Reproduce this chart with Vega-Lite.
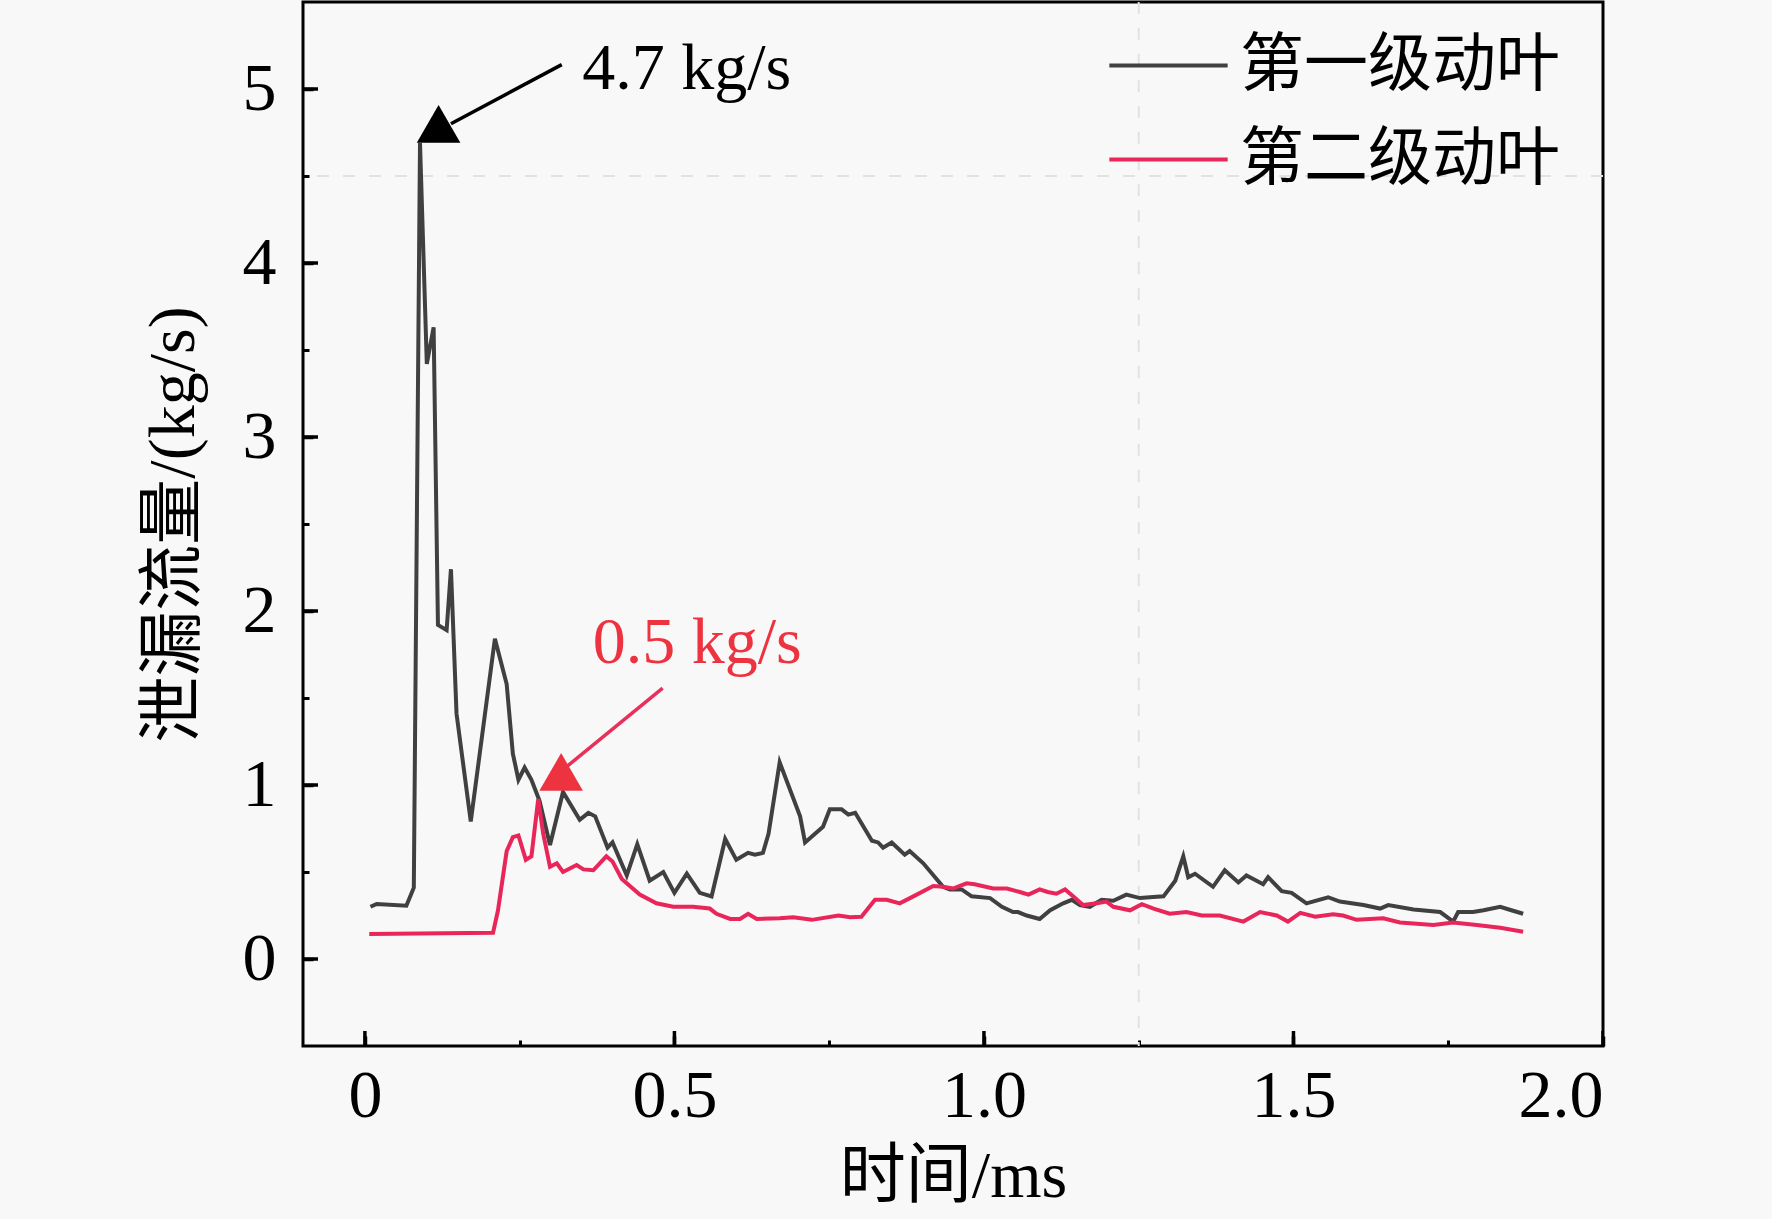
{
  "$schema": "https://vega.github.io/schema/vega-lite/v6.json",
  "width": 1300,
  "height": 1044,
  "autosize": "none",
  "padding": {"left": 303, "top": 2, "right": 169, "bottom": 173},
  "background": "#f8f8f8",
  "config": {
    "view": {"stroke": "black", "strokeWidth": 3},
    "axis": {
      "domain": false, "grid": false, "tickColor": "black", "tickWidth": 3,
      "labelFont": "Liberation Serif", "labelFontSize": 68, "labelColor": "black",
      "titleFont": "Liberation Serif, Noto Sans CJK SC", "titleFontSize": 66,
      "titleFontWeight": "normal", "titleColor": "black"
    },
    "legend": {
      "orient": "none", "legendX": 804, "legendY": 2, "padding": 0,
      "symbolType": "stroke", "symbolSize": 14000, "symbolStrokeWidth": 4,
      "labelFont": "Noto Sans CJK SC", "labelFontSize": 64, "labelColor": "black",
      "labelLimit": 0, "labelOffset": 10, "rowPadding": -33
    }
  },
  "datasets": {
    "flow": [
      {"t": 0.009, "q": 0.30, "s": "第一级动叶"}, {"t": 0.019, "q": 0.316, "s": "第一级动叶"},
      {"t": 0.067, "q": 0.306, "s": "第一级动叶"}, {"t": 0.079, "q": 0.41, "s": "第一级动叶"},
      {"t": 0.089, "q": 4.69, "s": "第一级动叶"}, {"t": 0.100, "q": 3.42, "s": "第一级动叶"},
      {"t": 0.111, "q": 3.63, "s": "第一级动叶"}, {"t": 0.118, "q": 1.92, "s": "第一级动叶"},
      {"t": 0.132, "q": 1.89, "s": "第一级动叶"}, {"t": 0.139, "q": 2.24, "s": "第一级动叶"},
      {"t": 0.148, "q": 1.41, "s": "第一级动叶"}, {"t": 0.171, "q": 0.79, "s": "第一级动叶"},
      {"t": 0.210, "q": 1.84, "s": "第一级动叶"}, {"t": 0.229, "q": 1.58, "s": "第一级动叶"},
      {"t": 0.239, "q": 1.18, "s": "第一级动叶"}, {"t": 0.248, "q": 1.03, "s": "第一级动叶"},
      {"t": 0.258, "q": 1.10, "s": "第一级动叶"}, {"t": 0.269, "q": 1.03, "s": "第一级动叶"},
      {"t": 0.282, "q": 0.91, "s": "第一级动叶"}, {"t": 0.299, "q": 0.655, "s": "第一级动叶"},
      {"t": 0.320, "q": 0.96, "s": "第一级动叶"}, {"t": 0.347, "q": 0.80, "s": "第一级动叶"},
      {"t": 0.361, "q": 0.84, "s": "第一级动叶"}, {"t": 0.372, "q": 0.82, "s": "第一级动叶"},
      {"t": 0.392, "q": 0.64, "s": "第一级动叶"}, {"t": 0.400, "q": 0.67, "s": "第一级动叶"},
      {"t": 0.423, "q": 0.48, "s": "第一级动叶"}, {"t": 0.440, "q": 0.66, "s": "第一级动叶"},
      {"t": 0.460, "q": 0.45, "s": "第一级动叶"}, {"t": 0.482, "q": 0.50, "s": "第一级动叶"},
      {"t": 0.500, "q": 0.38, "s": "第一级动叶"}, {"t": 0.520, "q": 0.49, "s": "第一级动叶"},
      {"t": 0.541, "q": 0.38, "s": "第一级动叶"}, {"t": 0.560, "q": 0.36, "s": "第一级动叶"},
      {"t": 0.582, "q": 0.69, "s": "第一级动叶"}, {"t": 0.600, "q": 0.57, "s": "第一级动叶"},
      {"t": 0.619, "q": 0.61, "s": "第一级动叶"}, {"t": 0.630, "q": 0.60, "s": "第一级动叶"},
      {"t": 0.643, "q": 0.61, "s": "第一级动叶"}, {"t": 0.652, "q": 0.72, "s": "第一级动叶"},
      {"t": 0.670, "q": 1.13, "s": "第一级动叶"}, {"t": 0.703, "q": 0.82, "s": "第一级动叶"},
      {"t": 0.711, "q": 0.67, "s": "第一级动叶"}, {"t": 0.740, "q": 0.76, "s": "第一级动叶"},
      {"t": 0.751, "q": 0.86, "s": "第一级动叶"}, {"t": 0.770, "q": 0.86, "s": "第一级动叶"},
      {"t": 0.781, "q": 0.83, "s": "第一级动叶"}, {"t": 0.792, "q": 0.84, "s": "第一级动叶"},
      {"t": 0.819, "q": 0.68, "s": "第一级动叶"}, {"t": 0.829, "q": 0.67, "s": "第一级动叶"},
      {"t": 0.837, "q": 0.64, "s": "第一级动叶"}, {"t": 0.851, "q": 0.67, "s": "第一级动叶"},
      {"t": 0.872, "q": 0.60, "s": "第一级动叶"}, {"t": 0.880, "q": 0.62, "s": "第一级动叶"},
      {"t": 0.902, "q": 0.55, "s": "第一级动叶"}, {"t": 0.934, "q": 0.415, "s": "第一级动叶"},
      {"t": 0.945, "q": 0.40, "s": "第一级动叶"}, {"t": 0.964, "q": 0.40, "s": "第一级动叶"},
      {"t": 0.980, "q": 0.36, "s": "第一级动叶"}, {"t": 1.010, "q": 0.35, "s": "第一级动叶"},
      {"t": 1.029, "q": 0.30, "s": "第一级动叶"}, {"t": 1.047, "q": 0.27, "s": "第一级动叶"},
      {"t": 1.055, "q": 0.27, "s": "第一级动叶"}, {"t": 1.069, "q": 0.25, "s": "第一级动叶"},
      {"t": 1.090, "q": 0.23, "s": "第一级动叶"}, {"t": 1.107, "q": 0.28, "s": "第一级动叶"},
      {"t": 1.128, "q": 0.32, "s": "第一级动叶"}, {"t": 1.142, "q": 0.34, "s": "第一级动叶"},
      {"t": 1.155, "q": 0.31, "s": "第一级动叶"}, {"t": 1.171, "q": 0.30, "s": "第一级动叶"},
      {"t": 1.190, "q": 0.34, "s": "第一级动叶"}, {"t": 1.209, "q": 0.335, "s": "第一级动叶"},
      {"t": 1.230, "q": 0.37, "s": "第一级动叶"}, {"t": 1.252, "q": 0.35, "s": "第一级动叶"},
      {"t": 1.268, "q": 0.355, "s": "第一级动叶"}, {"t": 1.290, "q": 0.36, "s": "第一级动叶"},
      {"t": 1.309, "q": 0.45, "s": "第一级动叶"}, {"t": 1.322, "q": 0.59, "s": "第一级动叶"},
      {"t": 1.330, "q": 0.47, "s": "第一级动叶"}, {"t": 1.341, "q": 0.49, "s": "第一级动叶"},
      {"t": 1.370, "q": 0.415, "s": "第一级动叶"}, {"t": 1.389, "q": 0.51, "s": "第一级动叶"},
      {"t": 1.411, "q": 0.44, "s": "第一级动叶"}, {"t": 1.424, "q": 0.48, "s": "第一级动叶"},
      {"t": 1.435, "q": 0.46, "s": "第一级动叶"}, {"t": 1.451, "q": 0.43, "s": "第一级动叶"},
      {"t": 1.459, "q": 0.47, "s": "第一级动叶"}, {"t": 1.481, "q": 0.39, "s": "第一级动叶"},
      {"t": 1.497, "q": 0.38, "s": "第一级动叶"}, {"t": 1.521, "q": 0.32, "s": "第一级动叶"},
      {"t": 1.556, "q": 0.355, "s": "第一级动叶"}, {"t": 1.575, "q": 0.33, "s": "第一级动叶"},
      {"t": 1.613, "q": 0.31, "s": "第一级动叶"}, {"t": 1.640, "q": 0.29, "s": "第一级动叶"},
      {"t": 1.653, "q": 0.31, "s": "第一级动叶"}, {"t": 1.694, "q": 0.285, "s": "第一级动叶"},
      {"t": 1.737, "q": 0.27, "s": "第一级动叶"}, {"t": 1.758, "q": 0.215, "s": "第一级动叶"},
      {"t": 1.766, "q": 0.27, "s": "第一级动叶"}, {"t": 1.790, "q": 0.27, "s": "第一级动叶"},
      {"t": 1.807, "q": 0.28, "s": "第一级动叶"}, {"t": 1.834, "q": 0.30, "s": "第一级动叶"},
      {"t": 1.852, "q": 0.28, "s": "第一级动叶"}, {"t": 1.871, "q": 0.26, "s": "第一级动叶"},

      {"t": 0.007, "q": 0.144, "s": "第二级动叶"}, {"t": 0.207, "q": 0.151, "s": "第二级动叶"},
      {"t": 0.215, "q": 0.28, "s": "第二级动叶"}, {"t": 0.229, "q": 0.62, "s": "第二级动叶"},
      {"t": 0.239, "q": 0.70, "s": "第二级动叶"}, {"t": 0.248, "q": 0.71, "s": "第二级动叶"},
      {"t": 0.260, "q": 0.57, "s": "第二级动叶"}, {"t": 0.269, "q": 0.59, "s": "第二级动叶"},
      {"t": 0.280, "q": 0.92, "s": "第二级动叶"}, {"t": 0.288, "q": 0.72, "s": "第二级动叶"},
      {"t": 0.299, "q": 0.53, "s": "第二级动叶"}, {"t": 0.310, "q": 0.55, "s": "第二级动叶"},
      {"t": 0.320, "q": 0.50, "s": "第二级动叶"}, {"t": 0.342, "q": 0.54, "s": "第二级动叶"},
      {"t": 0.353, "q": 0.515, "s": "第二级动叶"}, {"t": 0.369, "q": 0.51, "s": "第二级动叶"},
      {"t": 0.390, "q": 0.59, "s": "第二级动叶"}, {"t": 0.400, "q": 0.56, "s": "第二级动叶"},
      {"t": 0.415, "q": 0.46, "s": "第二级动叶"}, {"t": 0.444, "q": 0.37, "s": "第二级动叶"},
      {"t": 0.471, "q": 0.32, "s": "第二级动叶"}, {"t": 0.498, "q": 0.30, "s": "第二级动叶"},
      {"t": 0.530, "q": 0.30, "s": "第二级动叶"}, {"t": 0.557, "q": 0.29, "s": "第二级动叶"},
      {"t": 0.568, "q": 0.26, "s": "第二级动叶"}, {"t": 0.590, "q": 0.23, "s": "第二级动叶"},
      {"t": 0.606, "q": 0.23, "s": "第二级动叶"}, {"t": 0.619, "q": 0.26, "s": "第二级动叶"},
      {"t": 0.633, "q": 0.23, "s": "第二级动叶"}, {"t": 0.670, "q": 0.234, "s": "第二级动叶"},
      {"t": 0.692, "q": 0.24, "s": "第二级动叶"}, {"t": 0.722, "q": 0.225, "s": "第二级动叶"},
      {"t": 0.765, "q": 0.25, "s": "第二级动叶"}, {"t": 0.784, "q": 0.24, "s": "第二级动叶"},
      {"t": 0.802, "q": 0.243, "s": "第二级动叶"}, {"t": 0.824, "q": 0.34, "s": "第二级动叶"},
      {"t": 0.843, "q": 0.34, "s": "第二级动叶"}, {"t": 0.864, "q": 0.32, "s": "第二级动叶"},
      {"t": 0.886, "q": 0.36, "s": "第二级动叶"}, {"t": 0.918, "q": 0.42, "s": "第二级动叶"},
      {"t": 0.934, "q": 0.415, "s": "第二级动叶"}, {"t": 0.950, "q": 0.405, "s": "第二级动叶"},
      {"t": 0.972, "q": 0.435, "s": "第二级动叶"}, {"t": 0.985, "q": 0.43, "s": "第二级动叶"},
      {"t": 1.015, "q": 0.405, "s": "第二级动叶"}, {"t": 1.037, "q": 0.405, "s": "第二级动叶"},
      {"t": 1.058, "q": 0.385, "s": "第二级动叶"}, {"t": 1.072, "q": 0.37, "s": "第二级动叶"},
      {"t": 1.090, "q": 0.40, "s": "第二级动叶"}, {"t": 1.103, "q": 0.385, "s": "第二级动叶"},
      {"t": 1.117, "q": 0.375, "s": "第二级动叶"}, {"t": 1.131, "q": 0.40, "s": "第二级动叶"},
      {"t": 1.144, "q": 0.36, "s": "第二级动叶"}, {"t": 1.160, "q": 0.31, "s": "第二级动叶"},
      {"t": 1.182, "q": 0.32, "s": "第二级动叶"}, {"t": 1.198, "q": 0.33, "s": "第二级动叶"},
      {"t": 1.209, "q": 0.30, "s": "第二级动叶"}, {"t": 1.236, "q": 0.28, "s": "第二级动叶"},
      {"t": 1.255, "q": 0.315, "s": "第二级动叶"}, {"t": 1.274, "q": 0.29, "s": "第二级动叶"},
      {"t": 1.300, "q": 0.26, "s": "第二级动叶"}, {"t": 1.327, "q": 0.27, "s": "第二级动叶"},
      {"t": 1.352, "q": 0.25, "s": "第二级动叶"}, {"t": 1.381, "q": 0.25, "s": "第二级动叶"},
      {"t": 1.419, "q": 0.215, "s": "第二级动叶"}, {"t": 1.446, "q": 0.27, "s": "第二级动叶"},
      {"t": 1.473, "q": 0.25, "s": "第二级动叶"}, {"t": 1.491, "q": 0.215, "s": "第二级动叶"},
      {"t": 1.511, "q": 0.265, "s": "第二级动叶"}, {"t": 1.535, "q": 0.243, "s": "第二级动叶"},
      {"t": 1.564, "q": 0.257, "s": "第二级动叶"}, {"t": 1.580, "q": 0.25, "s": "第二级动叶"},
      {"t": 1.602, "q": 0.225, "s": "第二级动叶"}, {"t": 1.645, "q": 0.234, "s": "第二级动叶"},
      {"t": 1.672, "q": 0.21, "s": "第二级动叶"}, {"t": 1.726, "q": 0.195, "s": "第二级动叶"},
      {"t": 1.758, "q": 0.21, "s": "第二级动叶"}, {"t": 1.796, "q": 0.195, "s": "第二级动叶"},
      {"t": 1.834, "q": 0.18, "s": "第二级动叶"}, {"t": 1.871, "q": 0.157, "s": "第二级动叶"}
    ],
    "arrows": [
      {"x": 0.318, "y": 5.14, "x2": 0.139, "y2": 4.80, "tx": 0.119, "ty": 4.80, "label": "4.7 kg/s", "lx": 0.351, "ly": 5.0, "key": "a"},
      {"x": 0.481, "y": 1.557, "x2": 0.324, "y2": 1.10, "tx": 0.317, "ty": 1.075, "label": "0.5 kg/s", "lx": 0.368, "ly": 1.70, "key": "b"}
    ]
  },
  "resolve": {"axis": {"x": "independent", "y": "independent"}},
  "layer": [
    {
      "data": {"values": [{"g": 1.25}]},
      "mark": {"type": "rule", "color": "#e2e2e2", "strokeWidth": 2, "strokeDash": [12, 14]},
      "encoding": {
        "x": {"field": "g", "type": "quantitative",
              "scale": {"domain": [-0.1, 2.0], "nice": false, "zero": false},
              "axis": {"orient": "bottom", "values": [0, 0.5, 1, 1.5, 2],
                       "labelExpr": "datum.value == 0 ? '0' : format(datum.value, '.1f')",
                       "tickSize": -10, "tickWidth": 3.5, "labelPadding": 26,
                       "title": "时间/ms", "titlePadding": 14}}
      }
    },
    {
      "data": {"values": [{"g": 4.5}]},
      "mark": {"type": "rule", "color": "#e2e2e2", "strokeWidth": 2, "strokeDash": [12, 14]},
      "encoding": {
        "y": {"field": "g", "type": "quantitative",
              "scale": {"domain": [-0.5, 5.5], "nice": false, "zero": false},
              "axis": {"orient": "left", "values": [0, 1, 2, 3, 4, 5],
                       "tickSize": -10, "tickWidth": 3.5, "labelPadding": 37,
                       "title": "泄漏流量/(kg/s)", "titlePadding": 35}}
      }
    },
    {
      "data": {"values": [{"v": 0}, {"v": 0.5}, {"v": 1}, {"v": 1.5}, {"v": 2}]},
      "mark": {"type": "tick", "orient": "vertical", "size": 30, "thickness": 3.5, "color": "black", "opacity": 1, "clip": true},
      "encoding": {
        "x": {"field": "v", "type": "quantitative", "scale": {"domain": [-0.1, 2.0], "nice": false, "zero": false}, "axis": null},
        "y": {"datum": -0.5, "type": "quantitative", "scale": {"domain": [-0.5, 5.5], "nice": false, "zero": false}, "axis": null}
      }
    },
    {
      "data": {"values": [{"v": 0}, {"v": 1}, {"v": 2}, {"v": 3}, {"v": 4}, {"v": 5}]},
      "mark": {"type": "tick", "orient": "horizontal", "size": 30, "thickness": 3.5, "color": "black", "opacity": 1, "clip": true},
      "encoding": {
        "x": {"datum": -0.1, "type": "quantitative", "scale": {"domain": [-0.1, 2.0], "nice": false, "zero": false}, "axis": null},
        "y": {"field": "v", "type": "quantitative", "scale": {"domain": [-0.5, 5.5], "nice": false, "zero": false}, "axis": null}
      }
    },
    {
      "data": {"name": "flow"},
      "mark": {"type": "line", "strokeWidth": 4},
      "encoding": {
        "x": {"field": "t", "type": "quantitative",
              "scale": {"domain": [-0.1, 2.0], "nice": false, "zero": false},
              "axis": {"orient": "bottom", "values": [0.25, 0.75, 1.25, 1.75], "labels": false, "tickSize": -6, "title": null}},
        "y": {"field": "q", "type": "quantitative",
              "scale": {"domain": [-0.5, 5.5], "nice": false, "zero": false},
              "axis": {"orient": "left", "values": [0.5, 1.5, 2.5, 3.5, 4.5], "labels": false, "tickSize": -6, "title": null}},
        "color": {"field": "s", "type": "nominal", "title": null,
                  "scale": {"domain": ["第一级动叶", "第二级动叶"], "range": ["#404040", "#e8265a"]}}
      }
    },
    {
      "data": {"name": "arrows"},
      "mark": {"type": "rule", "strokeWidth": 3.5},
      "encoding": {
        "x": {"field": "x", "type": "quantitative", "scale": {"domain": [-0.1, 2.0], "nice": false, "zero": false}, "axis": null},
        "y": {"field": "y", "type": "quantitative", "scale": {"domain": [-0.5, 5.5], "nice": false, "zero": false}, "axis": null},
        "x2": {"field": "x2"},
        "y2": {"field": "y2"},
        "stroke": {"field": "key", "type": "nominal", "legend": null,
                   "scale": {"domain": ["a", "b"], "range": ["#000000", "#e8305a"]}}
      }
    },
    {
      "data": {"name": "arrows"},
      "mark": {"type": "point", "shape": "triangle-up", "filled": true, "size": 1900, "opacity": 1},
      "encoding": {
        "x": {"field": "tx", "type": "quantitative", "scale": {"domain": [-0.1, 2.0], "nice": false, "zero": false}, "axis": null},
        "y": {"field": "ty", "type": "quantitative", "scale": {"domain": [-0.5, 5.5], "nice": false, "zero": false}, "axis": null},
        "fill": {"field": "key", "type": "nominal", "legend": null,
                 "scale": {"domain": ["a", "b"], "range": ["#000000", "#ee3340"]}}
      }
    },
    {
      "data": {"name": "arrows"},
      "mark": {"type": "text", "font": "Liberation Serif", "fontSize": 66, "align": "left", "baseline": "alphabetic"},
      "encoding": {
        "x": {"field": "lx", "type": "quantitative", "scale": {"domain": [-0.1, 2.0], "nice": false, "zero": false}, "axis": null},
        "y": {"field": "ly", "type": "quantitative", "scale": {"domain": [-0.5, 5.5], "nice": false, "zero": false}, "axis": null},
        "text": {"field": "label"},
        "fill": {"field": "key", "type": "nominal", "legend": null,
                 "scale": {"domain": ["a", "b"], "range": ["#000000", "#d9506e"]}}
      }
    }
  ]
}
